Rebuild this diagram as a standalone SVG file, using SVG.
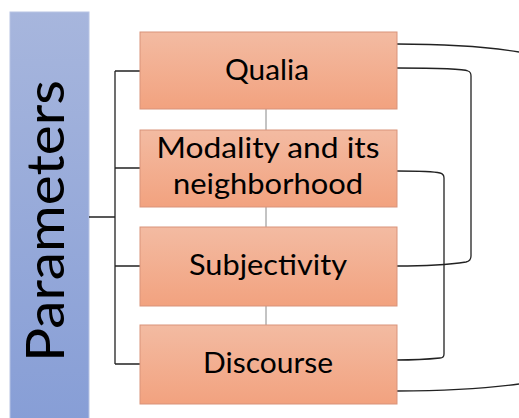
<svg xmlns="http://www.w3.org/2000/svg" width="519" height="418" viewBox="0 0 519 418">
<defs>
<linearGradient id="gBar" x1="0" y1="0" x2="0" y2="1">
<stop offset="0" stop-color="#a7b6dd"/>
<stop offset="1" stop-color="#879ed6"/>
</linearGradient>
<linearGradient id="gBox" x1="0" y1="0" x2="0" y2="1">
<stop offset="0" stop-color="#f3bba2"/>
<stop offset="1" stop-color="#f2a27f"/>
</linearGradient>
<style>
.box{fill:url(#gBox);stroke:#d9937a;stroke-width:1}
.lbl{font-family:Lato,"Open Sans","Liberation Sans",sans-serif;font-size:29px;fill:#000;text-anchor:middle}
.ln{fill:none;stroke:#222;stroke-width:1.3}
.gl{fill:none;stroke:#888;stroke-width:1}
</style>
</defs>
<g id="parameters">
<rect x="10" y="12" width="79" height="410" fill="url(#gBar)" stroke="#b8c4e4" stroke-width="1"/>
<text x="0" y="0" transform="translate(64,221) rotate(-90)" font-family="Lato,'Open Sans','Liberation Sans',sans-serif" font-size="52" text-anchor="middle" fill="#000" textLength="282" lengthAdjust="spacingAndGlyphs">Parameters</text>
</g>
<g id="connectors">
<path class="ln" d="M89,217 H115 M115,71 V364 M115,71 H140 M115,168 H140 M115,266 H140 M115,364 H140"/>
<path class="gl" d="M266,109 V130 M266,207 V227 M266,306 V325"/>
<path class="ln" d="M397,44 Q470,44 519,52"/>
<path class="ln" d="M397,68 Q462,68 468,71 Q471,72 471,76 V256 Q471,261 466,262 Q440,266 397,266"/>
<path class="ln" d="M397,171 Q432,171 440,173 Q444,174 444,178 V354 Q444,358 440,358 Q420,360 397,360"/>
<path class="ln" d="M397,391 Q470,391 519,384"/>
</g>
<g id="qualia">
<rect class="box" x="140" y="32" width="257" height="77"/>
<text class="lbl" x="267" y="80" textLength="84" lengthAdjust="spacingAndGlyphs">Qualia</text>
</g>
<g id="modality">
<rect class="box" x="140" y="130" width="257" height="77"/>
<text class="lbl" x="268" y="158" textLength="223" lengthAdjust="spacingAndGlyphs">Modality and its</text>
<text class="lbl" x="268" y="194" textLength="190" lengthAdjust="spacingAndGlyphs">neighborhood</text>
</g>
<g id="subjectivity">
<rect class="box" x="140" y="227" width="257" height="79"/>
<text class="lbl" x="268" y="275" textLength="158" lengthAdjust="spacingAndGlyphs">Subjectivity</text>
</g>
<g id="discourse">
<rect class="box" x="140" y="325" width="257" height="79"/>
<text class="lbl" x="268" y="373" textLength="130" lengthAdjust="spacingAndGlyphs">Discourse</text>
</g>
</svg>
